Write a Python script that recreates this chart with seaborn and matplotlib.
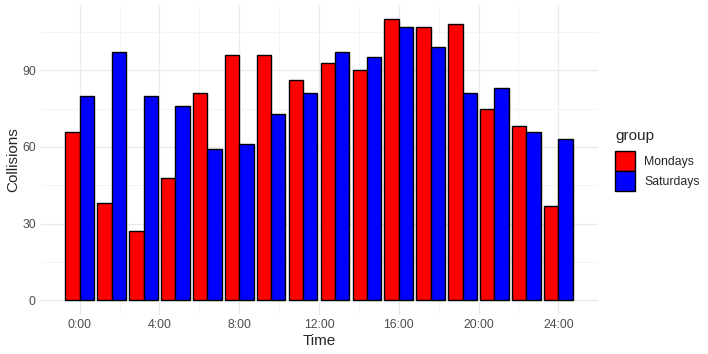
import pandas as pd
import numpy as np
import matplotlib.pyplot as plt
from matplotlib.patches import Patch
import seaborn as sns

sns.set_theme(style="white")
plt.rcParams['font.family'] = ['Liberation Sans', 'DejaVu Sans']

# hour of day for each pair of bars
times = [0, 1.6, 3.2, 4.8, 6.4, 8.0, 9.6, 11.2, 12.8, 14.4, 16.0, 17.6, 19.2, 20.8, 22.4, 24.0]
mondays = [66, 38, 27, 48, 81, 96, 96, 86, 93, 90, 110, 107, 108, 75, 68, 37]
saturdays = [80, 97, 80, 76, 59, 61, 73, 81, 97, 95, 107, 99, 81, 83, 66, 63]
groups = ["Mondays", "Saturdays"]
colors = ["#FF0000", "#0000FF"]
x_ticks = [0, 4, 8, 12, 16, 20, 24]
x_labels = ["0:00", "4:00", "8:00", "12:00", "16:00", "20:00", "24:00"]
y_ticks = [0, 30, 60, 90]

df = pd.DataFrame({
    "time": times * 2,
    "count": mondays + saturdays,
    "group": [groups[0]] * len(times) + [groups[1]] * len(times),
})

f, ax = plt.subplots(figsize=(7.08, 3.54), dpi=100)
f.subplots_adjust(left=40 / 708, right=598 / 708, top=1 - 5 / 354, bottom=1 - 315 / 354)

# grid like theme_minimal
for v in [2, 6, 10, 14, 18, 22]:
    ax.axvline(v, color="#F3F3F3", lw=0.55, zorder=0)
for v in x_ticks:
    ax.axvline(v, color="#EBEBEB", lw=1.0, zorder=0)
for v in [15, 45, 75, 105]:
    ax.axhline(v, color="#F3F3F3", lw=0.55, zorder=0)
for v in y_ticks:
    ax.axhline(v, color="#EBEBEB", lw=1.0, zorder=0)

sns.barplot(data=df, x="time", y="count", hue="group", native_scale=True,
            palette=colors, saturation=1, width=0.9, gap=0,
            edgecolor="black", linewidth=1.0, errorbar=None, ax=ax, zorder=2,
            legend=False)

ax.set_xlim(-1.99, 25.99)
ax.set_ylim(-5.775, 115.5)
ax.set_xticks(x_ticks, x_labels)
ax.set_yticks(y_ticks)
ax.tick_params(axis="both", length=0, labelsize=8.8, labelcolor="#4D4D4D", pad=3)
ax.set_xlabel("Time", fontsize=11, labelpad=2)
ax.set_ylabel("Collisions", fontsize=11, labelpad=1)
sns.despine(ax=ax, left=True, bottom=True)

handles = [Patch(facecolor=c, edgecolor="black", linewidth=1.0, label=g)
           for c, g in zip(colors, groups)]
leg = ax.legend(handles=handles, loc="center left", bbox_to_anchor=(1.005, 0.5),
                frameon=False, title="group", fontsize=8.8, title_fontsize=11,
                handlelength=1.6, handleheight=2.1, labelspacing=0.0,
                handletextpad=0.75, alignment="left", borderaxespad=0.8)
leg._legend_box.sep = 6

plt.savefig("out.png", dpi=100)
